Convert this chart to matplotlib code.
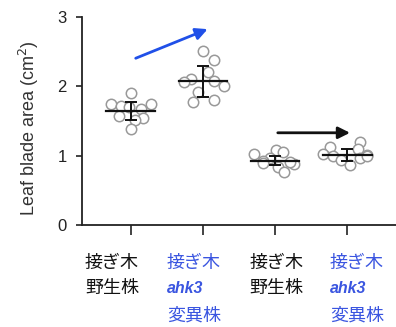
import numpy as np
import matplotlib.pyplot as plt

# values
groups = ['grafted WT', 'grafted ahk3', 'WT', 'ahk3']
vals = [
    [1.90, 1.75, 1.71, 1.70, 1.75, 1.68, 1.57, 1.55, 1.52, 1.38],
    [2.51, 2.38, 2.20, 2.10, 2.06, 2.07, 2.00, 1.92, 1.78, 1.81],
    [1.03, 1.08, 1.05, 0.97, 0.93, 0.90, 0.88, 0.84, 0.77, 0.91],
    [1.12, 1.19, 1.09, 1.03, 1.01, 0.99, 0.96, 0.94, 0.87, 1.00],
]
# horizontal scatter of the points (pixels in the reference)
jit = [
    [0, -20, -10, -2, 20, 10, -12, 12, 4, 0],
    [0, 11, 5, -12, -19, 11, 21, -5, -10, 11],
    [-21, 1, 8, -5, -12, -12, 19, 3, 9, 15],
    [-17, 13, 11, -24, 20, -14, 13, -6, 3, 20],
]
means = [1.64, 2.07, 0.93, 1.01]
sds = [0.13, 0.22, 0.07, 0.09]

line1 = ['接ぎ木', '接ぎ木', '接ぎ木', '接ぎ木']
line2 = ['野生株', 'ahk3', '野生株', 'ahk3']
line3 = ['', '変異株', '', '変異株']
lab_col = ['#111111', '#3a55e0', '#111111', '#3a55e0']

plt.rcParams['font.family'] = ['Liberation Sans', 'DejaVu Sans']

fig = plt.figure(figsize=(3.96, 3.27), dpi=100)
ax = fig.add_axes([82/396, 1 - 225/327, 314/396, 208/327])

for i in range(4):
    x = i + np.array(jit[i]) / 72.0
    ax.plot(x, vals[i], 'o', mfc='white', mec='#999999', ms=7.5, mew=1.1, zorder=2)
    ax.plot([i - 0.34, i + 0.34], [means[i], means[i]], color='#111111', lw=1.6, zorder=3)
    ax.errorbar(i, means[i], yerr=sds[i], color='#111111', lw=1.4, capsize=4, capthick=1.4, zorder=3)

ax.annotate('', xy=(1.1, 2.84), xytext=(0.03, 2.39),
            arrowprops=dict(arrowstyle='-|>,head_length=0.7,head_width=0.35', color='#2050e8', lw=2))
ax.annotate('', xy=(3.08, 1.33), xytext=(2.0, 1.33),
            arrowprops=dict(arrowstyle='-|>,head_length=0.7,head_width=0.35', color='#111111', lw=2))

ax.set_xlim(-0.68, 3.68)
ax.set_ylim(0, 3)
ax.set_yticks([0, 1, 2, 3])
ax.set_xticks(range(4))
ax.set_xticklabels([])
ax.tick_params(axis='y', length=4, width=1.2, labelsize=12, pad=7, colors='#222222')
ax.tick_params(axis='x', length=7, width=1.2, colors='#222222')
for s in ['top', 'right']:
    ax.spines[s].set_visible(False)
for s in ['left', 'bottom']:
    ax.spines[s].set_linewidth(1.3)
    ax.spines[s].set_color('#222222')
ax.set_ylabel('Leaf blade area (cm$^2$)', fontsize=13, color='#333333')
ax.yaxis.set_label_coords(-0.13, 0.466)

# category labels, left aligned under each tick
tr = ax.get_xaxis_transform()
lefts = [-0.64, 0.5, 1.65, 2.76]
for i in range(4):
    ax.text(lefts[i], -0.183, line1[i], transform=tr, ha='left', va='center', color=lab_col[i],
            fontsize=13, family=['Noto Sans CJK JP'], clip_on=False)
    if line2[i] == 'ahk3':
        ax.text(lefts[i], -0.303, line2[i], transform=tr, ha='left', va='center', color=lab_col[i],
                fontsize=11.5, style='italic', weight='bold', clip_on=False)
    else:
        ax.text(lefts[i], -0.303, line2[i], transform=tr, ha='left', va='center', color=lab_col[i],
                fontsize=13, family=['Noto Sans CJK JP'], clip_on=False)
    if line3[i]:
        ax.text(lefts[i], -0.433, line3[i], transform=tr, ha='left', va='center', color=lab_col[i],
                fontsize=13, family=['Noto Sans CJK JP'], clip_on=False)

fig.savefig('out.png', dpi=100)
